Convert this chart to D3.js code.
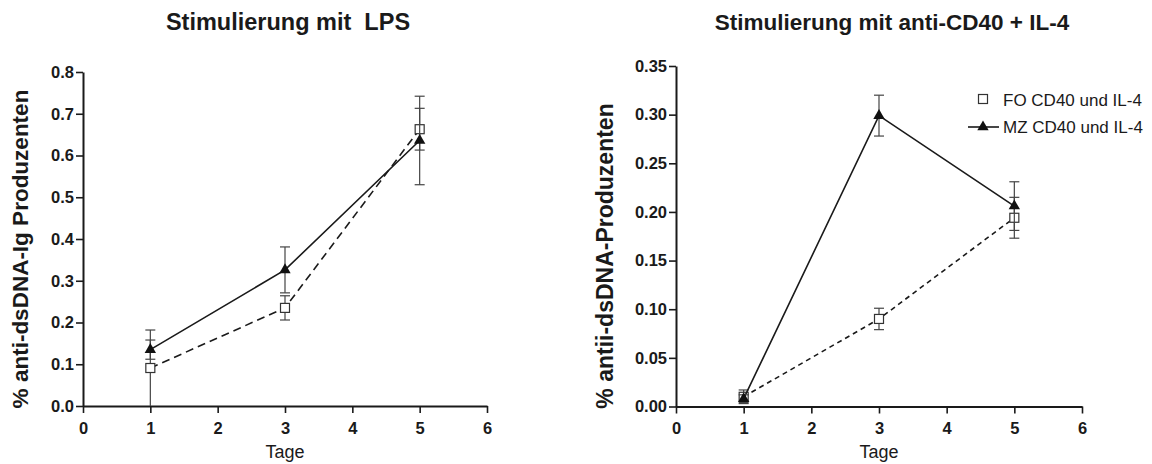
<!DOCTYPE html>
<html><head><meta charset="utf-8">
<script src="https://cdn.jsdelivr.net/npm/d3@7"></script>
<style>
body{margin:0;background:#fff;}
svg{display:block;font-family:"Liberation Sans",Arial,sans-serif;}
</style></head>
<body><svg id="c" width="1152" height="464"></svg>
<script>
// ---- data ----
const days = [1, 3, 5];
const xTicks = [0, 1, 2, 3, 4, 5, 6];

const lpsFO = [0.091, 0.235, 0.663];
const lpsFOerr = [0.091, 0.029, 0.050];
const lpsMZ = [0.135, 0.326, 0.636];
const lpsMZerr = [0.023, 0.055, 0.106];
const lpsYTicks = [0.0, 0.1, 0.2, 0.3, 0.4, 0.5, 0.6, 0.7, 0.8];

const cdFO = [0.010, 0.090, 0.194];
const cdFOerr = [0.007, 0.011, 0.021];
const cdMZ = [0.008, 0.299, 0.206];
const cdMZerr = [0.004, 0.021, 0.025];
const cdYTicks = [0.00, 0.05, 0.10, 0.15, 0.20, 0.25, 0.30, 0.35];

const titles = ["Stimulierung mit  LPS", "Stimulierung mit anti-CD40 + IL-4"];
const yLabels = ["% anti-dsDNA-Ig Produzenten", "% antii-dsDNA-Produzenten"];
const xLabel = "Tage";
const legendLabels = ["FO CD40 und IL-4", "MZ CD40 und IL-4"];

const svg = d3.select("#c");
const ink = "#1a1a1a";

function panel(cfg) {
  const x = d3.scaleLinear().domain([0, 6]).range(cfg.xr);
  const y = d3.scaleLinear().domain([0, cfg.ymax]).range(cfg.yr);
  const g = svg.append("g");

  const xa = g.append("g").attr("transform", `translate(0,${cfg.yr[0]})`)
    .call(d3.axisBottom(x).tickValues(xTicks).tickFormat(d3.format("d")).tickSize(7).tickSizeOuter(0).tickPadding(9));
  const ya = g.append("g").attr("transform", `translate(${cfg.xr[0]},0)`)
    .call(d3.axisLeft(y).tickValues(cfg.yticks).tickFormat(d3.format(cfg.fmt)).tickSize(7).tickSizeOuter(0).tickPadding(2));
  [xa, ya].forEach(a => {
    a.select(".domain").attr("stroke", ink).attr("stroke-width", 2);
    a.selectAll(".tick line").attr("stroke", ink).attr("stroke-width", 1.6);
    a.selectAll(".tick text").attr("fill", ink).attr("font-size", 16.5).attr("font-weight", "bold");
  });

  // title
  g.append("text").attr("x", cfg.tx).attr("y", 30).attr("text-anchor", "middle")
    .attr("font-size", cfg.tfs).attr("font-weight", "bold").attr("fill", ink)
    .style("white-space", "pre").text(cfg.title);
  // y label
  g.append("text").attr("transform", `translate(${cfg.ylx},${cfg.yly}) rotate(-90)`)
    .attr("text-anchor", "middle").attr("font-size", cfg.yfs).attr("font-weight", "bold").attr("fill", ink)
    .text(cfg.ylabel);
  // x label
  g.append("text").attr("x", (cfg.xr[0] + cfg.xr[1]) / 2).attr("y", 458).attr("text-anchor", "middle")
    .attr("font-size", 18).attr("fill", ink).text(xLabel);

  // series
  cfg.series.forEach(s => {
    const pts = days.map((d, i) => ({ d, v: s.vals[i], e: s.errs[i] }));
    g.append("path").datum(pts)
      .attr("fill", "none").attr("stroke", ink).attr("stroke-width", 1.6)
      .attr("stroke-dasharray", s.dash || null)
      .attr("d", d3.line().x(p => x(p.d)).y(p => y(p.v)));
    const eb = g.append("g").attr("stroke", "#444").attr("stroke-width", 1.2);
    pts.forEach(p => {
      const lo = Math.max(0, p.v - p.e), hi = p.v + p.e;
      eb.append("line").attr("x1", x(p.d)).attr("x2", x(p.d)).attr("y1", y(lo)).attr("y2", y(hi));
      eb.append("line").attr("x1", x(p.d) - 5).attr("x2", x(p.d) + 5).attr("y1", y(hi)).attr("y2", y(hi));
      if (p.v - p.e > 0.0005)
        eb.append("line").attr("x1", x(p.d) - 5).attr("x2", x(p.d) + 5).attr("y1", y(lo)).attr("y2", y(lo));
    });
    pts.forEach(p => marker(g, s.shape, x(p.d), y(p.v)));
  });
}

function marker(g, shape, cx, cy) {
  if (shape === "square") {
    g.append("rect").attr("x", cx - 4.5).attr("y", cy - 4.5).attr("width", 9).attr("height", 9)
      .attr("fill", "#fff").attr("stroke", "#333").attr("stroke-width", 1.2);
  } else {
    g.append("path").attr("transform", `translate(${cx},${cy})`)
      .attr("d", d3.symbol(d3.symbolTriangle, 56)()).attr("fill", "#111");
  }
}

panel({
  xr: [83, 487], yr: [406, 72], ymax: 0.8, yticks: lpsYTicks, fmt: ".1f",
  title: titles[0], tx: 288, tfs: 23.5, ylabel: yLabels[0], ylx: 28, yly: 249, yfs: 22.5,
  series: [
    { vals: lpsFO, errs: lpsFOerr, shape: "square", dash: "8,5" },
    { vals: lpsMZ, errs: lpsMZerr, shape: "tri" }
  ]
});
panel({
  xr: [676, 1082], yr: [406.5, 66], ymax: 0.35, yticks: cdYTicks, fmt: ".2f",
  title: titles[1], tx: 892, tfs: 22.5, ylabel: yLabels[1], ylx: 613, yly: 256, yfs: 23,
  series: [
    { vals: cdFO, errs: cdFOerr, shape: "square", dash: "5,4" },
    { vals: cdMZ, errs: cdMZerr, shape: "tri" }
  ]
});

// legend
const lg = svg.append("g");
marker(lg, "square", 983, 99);
lg.append("line").attr("x1", 968).attr("x2", 999).attr("y1", 127).attr("y2", 127)
  .attr("stroke", ink).attr("stroke-width", 1.6);
marker(lg, "tri", 983, 127);
legendLabels.forEach((t, i) => {
  lg.append("text").attr("x", 1003).attr("y", 106 + i * 27).attr("font-size", 17)
    .attr("fill", ink).text(t);
});
</script></body></html>
